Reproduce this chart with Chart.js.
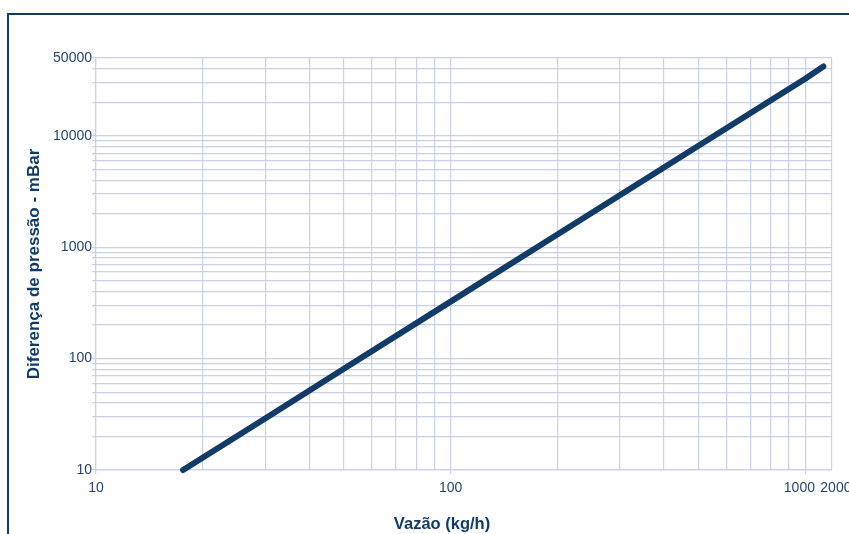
<!DOCTYPE html>
<html>
<head>
<meta charset="utf-8">
<script src="https://cdn.jsdelivr.net/npm/chart.js@4.4.1/dist/chart.umd.min.js"></script>
<style>
  html, body { margin: 0; padding: 0; background: #fff; overflow: hidden; }
  .frame {
    position: absolute; left: 7px; top: 13px; width: 900px; height: 600px;
    border-top: 2.5px solid #153a66; border-left: 2.5px solid #153a66;
  }
  .wrap { position: absolute; left: 0; top: 0; width: 849px; height: 534px; }
</style>
</head>
<body>
<div class="frame"></div>
<div class="wrap"><canvas id="chart" width="849" height="534"></canvas></div>
<script>
// flow (kg/h) vs pressure difference (mBar)
const flow = [17.6, 30, 50, 100, 200, 300, 500, 1000, 1125];
const pressure = [10, 29, 81, 325, 1300, 2930, 8150, 32600, 42000];

// axis ranges and labelled ticks
const xMin = 10, xMax = 1190;
const yMin = 10, yMax = 50000;
const xTickValues = [10, 100, 1000, 1190];
const xTickLabels = ['10', '100', '1000   ', '  2000'];
const yTickValues = [10, 100, 1000, 10000, 50000];
const yTickLabels = ['10', '100', '1000', '10000', '50000'];

const navy = '#133b68';
const gridColor = '#c9d0ea';
const labelColor = '#27456e';
const fontFamily = '"Liberation Sans", Arial, sans-serif';

// 1..9 x each decade, plus the axis max
function logGrid(min, max) {
  const out = [];
  for (let d = min; d < max; d *= 10) {
    for (let m = 1; m <= 9; m++) {
      const v = m * d;
      if (v < max) out.push(v);
    }
  }
  out.push(max);
  return out.map((v) => ({ value: v }));
}

// x title sits a bit left of the plot centre in the original
const xTitlePlugin = {
  id: 'xTitle',
  afterDraw(chart) {
    const ctx = chart.ctx;
    const area = chart.chartArea;
    ctx.save();
    ctx.font = 'bold 16.5px ' + fontFamily;
    ctx.fillStyle = navy;
    ctx.textAlign = 'center';
    ctx.textBaseline = 'middle';
    ctx.fillText('Vazão (kg/h)', (area.left + area.right) / 2 - 22, 524);
    ctx.restore();
  },
};

const ctx = document.getElementById('chart').getContext('2d');
new Chart(ctx, {
  type: 'line',
  data: {
    datasets: [
      {
        data: flow.map((f, i) => ({ x: f, y: pressure[i] })),
        borderColor: navy,
        borderWidth: 6,
        borderCapStyle: 'round',
        pointRadius: 0,
        fill: false,
        clip: false,
      },
    ],
  },
  options: {
    responsive: false,
    animation: false,
    layout: { padding: { left: 24, top: 58, right: 17, bottom: 0 } },
    plugins: { legend: { display: false }, tooltip: { enabled: false } },
    scales: {
      x: {
        type: 'logarithmic',
        min: xMin,
        max: xMax,
        afterBuildTicks: (scale) => { scale.ticks = logGrid(xMin, xMax); },
        afterFit: (scale) => {
          scale.height = 64;
          scale.paddingRight = 0; // let the last label run into the margin
        },
        grid: {
          color: gridColor,
          lineWidth: 1.2,
          tickLength: 4,
          tickColor: (c) => (c.tick && xTickValues.slice(0, 3).includes(c.tick.value) ? gridColor : 'rgba(0,0,0,0)'),
        },
        border: { color: gridColor, width: 1.2 },
        ticks: {
          autoSkip: false,
          maxRotation: 0,
          padding: 6,
          color: labelColor,
          font: { size: 14, family: fontFamily },
          callback: (v) => {
            const i = xTickValues.indexOf(v);
            return i >= 0 ? xTickLabels[i] : '';
          },
        },
      },
      y: {
        type: 'logarithmic',
        min: yMin,
        max: yMax,
        afterBuildTicks: (scale) => { scale.ticks = logGrid(yMin, yMax); },
        afterFit: (scale) => { scale.width = 72; },
        grid: { color: gridColor, lineWidth: 1.2, tickLength: 4, tickColor: gridColor },
        border: { color: gridColor, width: 1.2 },
        title: {
          display: true,
          text: 'Diferença de pressão - mBar',
          color: navy,
          padding: 0,
          font: { size: 17, weight: 'bold', family: fontFamily },
        },
        ticks: {
          autoSkip: false,
          padding: 0,
          color: labelColor,
          font: { size: 14, family: fontFamily },
          callback: (v) => {
            const i = yTickValues.indexOf(v);
            return i >= 0 ? yTickLabels[i] : '';
          },
        },
      },
    },
  },
  plugins: [xTitlePlugin],
});
</script>
</body>
</html>
